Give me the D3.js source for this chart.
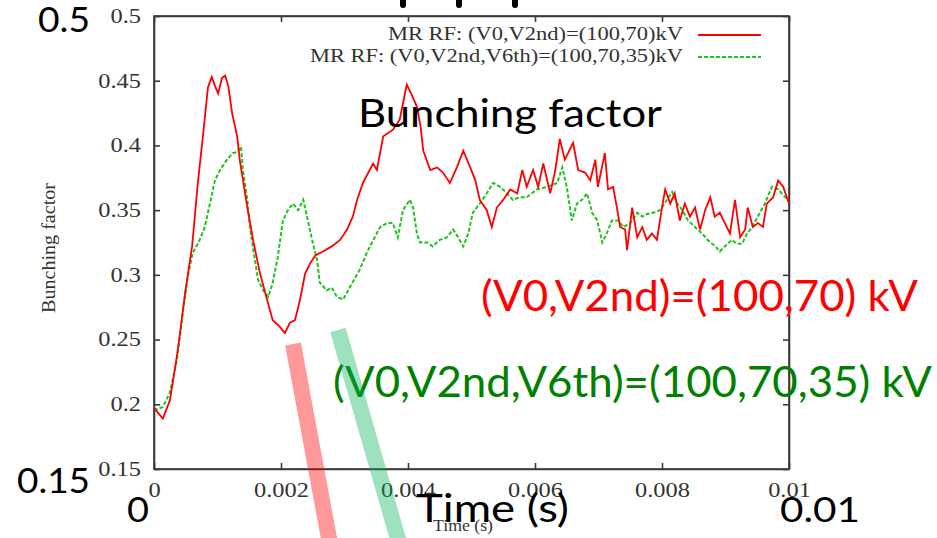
<!DOCTYPE html>
<html>
<head>
<meta charset="utf-8">
<script src="https://cdn.jsdelivr.net/npm/d3@7"></script>
<style>
  html, body { margin: 0; padding: 0; background: #fff; }
  svg { display: block; }
</style>
</head>
<body>
<svg id="chart" width="937" height="538"></svg>
<script>
// ---------------- data ----------------
const xTicks = [0, 0.002, 0.004, 0.006, 0.008, 0.01];
const xTickLabels = ["0", "0.002", "0.004", "0.006", "0.008", "0.01"];
const yTicks = [0.15, 0.2, 0.25, 0.3, 0.35, 0.4, 0.45, 0.5];
const yTickLabels = ["0.15", "0.2", "0.25", "0.3", "0.35", "0.4", "0.45", "0.5"];

const seriesNames = [
  "MR RF: (V0,V2nd)=(100,70)kV",
  "MR RF: (V0,V2nd,V6th)=(100,70,35)kV"
];

// time (s), bunching factor
const redSeries = [
  [0, 0.197], [0.00014, 0.189], [0.00025, 0.203], [0.00035, 0.234], [0.00038, 0.244],
  [0.00049, 0.286], [0.00060, 0.322], [0.00069, 0.371], [0.00077, 0.407], [0.00085, 0.445],
  [0.00091, 0.453], [0.00096, 0.446], [0.00101, 0.440], [0.00107, 0.452], [0.00112, 0.454],
  [0.00117, 0.446], [0.00123, 0.425], [0.00131, 0.407], [0.00135, 0.389], [0.00147, 0.352],
  [0.00156, 0.327], [0.00167, 0.301], [0.00178, 0.281], [0.00187, 0.265], [0.00198, 0.260],
  [0.00206, 0.255], [0.00214, 0.263], [0.00222, 0.265], [0.00230, 0.281], [0.00238, 0.301],
  [0.00246, 0.309], [0.00254, 0.315], [0.00266, 0.318], [0.00280, 0.322], [0.00293, 0.327],
  [0.00304, 0.335], [0.00313, 0.345], [0.00320, 0.358], [0.00329, 0.371], [0.00345, 0.386],
  [0.00351, 0.381], [0.00361, 0.407], [0.00376, 0.412], [0.00387, 0.420], [0.00398, 0.447],
  [0.00405, 0.440], [0.00414, 0.430], [0.00420, 0.414], [0.00424, 0.396], [0.00435, 0.381],
  [0.00446, 0.383], [0.00455, 0.379], [0.00466, 0.371], [0.00477, 0.383], [0.00487, 0.396],
  [0.00498, 0.383], [0.00506, 0.373], [0.00513, 0.358], [0.00524, 0.350], [0.00532, 0.337],
  [0.00540, 0.352], [0.00550, 0.358], [0.00561, 0.366], [0.00572, 0.363], [0.00580, 0.381],
  [0.00587, 0.368], [0.00597, 0.381], [0.00605, 0.368], [0.00613, 0.386], [0.00624, 0.363],
  [0.00632, 0.381], [0.00639, 0.405], [0.00647, 0.389], [0.00660, 0.402], [0.00668, 0.381],
  [0.00679, 0.379], [0.00687, 0.373], [0.00695, 0.389], [0.00699, 0.368], [0.00710, 0.394],
  [0.00715, 0.366], [0.00723, 0.368], [0.00729, 0.352], [0.00734, 0.337], [0.00742, 0.335],
  [0.00745, 0.319], [0.00753, 0.352], [0.00761, 0.329], [0.00769, 0.337], [0.00776, 0.327],
  [0.00784, 0.332], [0.00792, 0.327], [0.00800, 0.352], [0.00805, 0.366], [0.00813, 0.355],
  [0.00820, 0.363], [0.00828, 0.342], [0.00836, 0.355], [0.00844, 0.345], [0.00852, 0.352],
  [0.00860, 0.335], [0.00868, 0.350], [0.00876, 0.360], [0.00883, 0.345], [0.00891, 0.348],
  [0.00899, 0.340], [0.00907, 0.332], [0.00915, 0.358], [0.00923, 0.329], [0.00931, 0.335],
  [0.00935, 0.352], [0.00943, 0.337], [0.00951, 0.340], [0.00959, 0.337], [0.00965, 0.355],
  [0.00975, 0.360], [0.00983, 0.373], [0.00991, 0.368], [0.01, 0.355]
];

const greenSeries = [
  [0, 0.197], [0.00005, 0.196], [0.00014, 0.198], [0.00025, 0.209], [0.00036, 0.234],
  [0.00046, 0.273], [0.00054, 0.301], [0.00061, 0.317], [0.00072, 0.327], [0.00080, 0.337],
  [0.00088, 0.355], [0.00096, 0.373], [0.00104, 0.381], [0.00115, 0.389], [0.00124, 0.394],
  [0.00132, 0.395], [0.00137, 0.399], [0.00140, 0.381], [0.00147, 0.358], [0.00151, 0.337],
  [0.00159, 0.311], [0.00164, 0.296], [0.00172, 0.288], [0.00180, 0.283], [0.00187, 0.294],
  [0.00195, 0.314], [0.00203, 0.342], [0.00211, 0.350], [0.00219, 0.355], [0.00227, 0.350],
  [0.00235, 0.358], [0.00241, 0.345], [0.00249, 0.327], [0.00257, 0.311], [0.00261, 0.294],
  [0.00272, 0.288], [0.00280, 0.290], [0.00288, 0.283], [0.00298, 0.281], [0.00309, 0.291],
  [0.00324, 0.304], [0.00335, 0.317], [0.00356, 0.337], [0.00367, 0.340], [0.00376, 0.340],
  [0.00384, 0.329], [0.00392, 0.350], [0.00403, 0.358], [0.00408, 0.352], [0.00414, 0.332],
  [0.00419, 0.325], [0.00430, 0.325], [0.00439, 0.322], [0.00450, 0.327], [0.00461, 0.329],
  [0.00471, 0.335], [0.00479, 0.329], [0.00487, 0.322], [0.00495, 0.332], [0.00502, 0.348],
  [0.00513, 0.355], [0.00524, 0.363], [0.00534, 0.371], [0.00545, 0.368], [0.00556, 0.363],
  [0.00565, 0.358], [0.00576, 0.360], [0.00587, 0.360], [0.00603, 0.366], [0.00619, 0.368],
  [0.00635, 0.371], [0.00643, 0.383], [0.00650, 0.368], [0.00655, 0.352], [0.00658, 0.342],
  [0.00666, 0.355], [0.00674, 0.358], [0.00682, 0.363], [0.00690, 0.348], [0.00698, 0.342],
  [0.00706, 0.325], [0.00713, 0.332], [0.00721, 0.342], [0.00731, 0.342], [0.00739, 0.337],
  [0.00750, 0.340], [0.00761, 0.348], [0.00769, 0.345], [0.00776, 0.347], [0.00786, 0.348],
  [0.00797, 0.350], [0.00808, 0.358], [0.00816, 0.364], [0.00824, 0.355], [0.00832, 0.350],
  [0.00841, 0.342], [0.00852, 0.337], [0.00863, 0.332], [0.00872, 0.327], [0.00884, 0.322],
  [0.00891, 0.318], [0.00899, 0.322], [0.00910, 0.327], [0.00918, 0.324], [0.00926, 0.324],
  [0.00934, 0.332], [0.00942, 0.337], [0.00951, 0.345], [0.00962, 0.355], [0.00973, 0.368],
  [0.00983, 0.366], [0.00994, 0.360], [0.01, 0.358]
];

// overlaid annotation texts
const annotations = [
  { text: "0.5", x: 38, y: 32, len: 52, color: "#000", size: 35 },
  { text: "0.15", x: 17, y: 493, len: 73, color: "#000", size: 35 },
  { text: "0", x: 127, y: 522, len: 22, color: "#000", size: 35 },
  { text: "Time (s)", x: 416, y: 522, len: 153, color: "#000", size: 38 },
  { text: "0.01", x: 780, y: 522, len: 80, color: "#000", size: 35 },
  { text: "Bunching factor", x: 358, y: 127, len: 304, color: "#000", size: 38 },
  { text: "(V0,V2nd)=(100,70) kV", x: 481, y: 311, len: 437, color: "#ff0000", size: 42 },
  { text: "(V0,V2nd,V6th)=(100,70,35) kV", x: 333, y: 397, len: 599, color: "#008000", size: 42 }
];

// ---------------- layout ----------------
const svg = d3.select("#chart");
const margin = { left: 154, top: 16 };
const W = 635, H = 453;

const x = d3.scaleLinear().domain([0, 0.01]).range([0, W]);
const y = d3.scaleLinear().domain([0.15, 0.5]).range([H, 0]);

const g = svg.append("g").attr("transform", `translate(${margin.left},${margin.top})`);

const serif = "'Liberation Serif', 'Times New Roman', serif";
const axisColor = "#3a3a3a";
const tickFont = 20, tickScale = 1.22;

// left axis with labels
const yAxis = d3.axisLeft(y).tickValues(yTicks)
  .tickFormat((d, i) => yTickLabels[i]).tickSizeInner(-6).tickSizeOuter(0).tickPadding(13);
const gy = g.append("g").call(yAxis);
gy.selectAll("text").attr("font-family", serif).attr("font-size", tickFont).attr("fill", "#333")
  .attr("transform", `scale(${tickScale},1)`)
  .attr("x", -13 / tickScale);

// bottom axis with labels
const xAxis = d3.axisBottom(x).tickValues(xTicks)
  .tickFormat((d, i) => xTickLabels[i]).tickSizeInner(-6).tickSizeOuter(0).tickPadding(14);
const gx = g.append("g").attr("transform", `translate(0,${H})`).call(xAxis);
gx.selectAll("text").attr("font-family", serif).attr("font-size", tickFont).attr("fill", "#333")
  .attr("transform", `scale(${tickScale},1)`)
  .attr("x", 0);
gx.selectAll(".tick").each(function () {
  // keep label centred on its tick despite the horizontal stretch
  const t = d3.select(this);
  t.select("text").attr("x", 0);
});

// mirrored axes (ticks only)
g.append("g").call(d3.axisTop(x).tickValues(xTicks).tickFormat("").tickSizeInner(-6).tickSizeOuter(0));
g.append("g").attr("transform", `translate(${W},0)`)
  .call(d3.axisRight(y).tickValues(yTicks).tickFormat("").tickSizeInner(-6).tickSizeOuter(0));

g.selectAll(".domain, .tick line").attr("stroke", axisColor).attr("stroke-width", 1.6);

// frame
g.append("rect").attr("x", 0).attr("y", 0).attr("width", W).attr("height", H)
  .attr("fill", "none").attr("stroke", axisColor).attr("stroke-width", 1.6);

// axis titles (small serif)
g.append("text")
  .attr("transform", `translate(${55 - margin.left},${248 - margin.top}) rotate(-90)`)
  .attr("text-anchor", "middle").attr("font-family", serif).attr("font-size", 18)
  .attr("fill", "#333").attr("textLength", 130).attr("lengthAdjust", "spacingAndGlyphs")
  .text("Bunching factor");
g.append("text")
  .attr("x", 463 - margin.left).attr("y", 531 - margin.top)
  .attr("text-anchor", "middle").attr("font-family", serif).attr("font-size", 17)
  .attr("fill", "#333").attr("textLength", 60).attr("lengthAdjust", "spacingAndGlyphs")
  .text("Time (s)");

// lines
const line = d3.line().x(d => x(d[0])).y(d => y(d[1]));
const plot = g.append("g");
plot.append("path").datum(greenSeries).attr("d", line)
  .attr("fill", "none").attr("stroke", "#1fc41f").attr("stroke-width", 2)
  .attr("stroke-dasharray", "4,2");
plot.append("path").datum(redSeries).attr("d", line)
  .attr("fill", "none").attr("stroke", "#ff0000").attr("stroke-width", 1.8);

// legend
const legend = g.append("g");
const legColors = ["#ff0000", "#1fc41f"];
const legDash = [null, "4,2"];
const legLens = [295, 373];
seriesNames.forEach((name, i) => {
  const ly = 35 + i * 22 - margin.top;
  legend.append("text").attr("x", 683 - margin.left).attr("y", ly + 5)
    .attr("text-anchor", "end").attr("font-family", serif).attr("font-size", 19)
    .attr("fill", "#333").attr("textLength", legLens[i]).attr("lengthAdjust", "spacingAndGlyphs")
    .text(name);
  legend.append("line").attr("x1", 698 - margin.left).attr("x2", 761 - margin.left)
    .attr("y1", ly).attr("y2", ly)
    .attr("stroke", legColors[i]).attr("stroke-width", 1.8)
    .attr("stroke-dasharray", legDash[i]);
});

// cut-off marks at the top edge
[403, 459, 515].forEach(cx => {
  svg.append("rect").attr("x", cx - 3).attr("y", -4).attr("width", 6).attr("height", 12)
    .attr("rx", 3).attr("fill", "#000");
});

// big overlay annotations
const sans = "Lato, 'Open Sans', sans-serif";
annotations.forEach(a => {
  svg.append("text").attr("x", a.x).attr("y", a.y)
    .attr("font-family", sans).attr("font-size", a.size).attr("fill", a.color)
    .attr("textLength", a.len).attr("lengthAdjust", "spacingAndGlyphs")
    .text(a.text);
});

// translucent slanted pointer bars
svg.append("line").attr("x1", 293).attr("y1", 344).attr("x2", 333).attr("y2", 560)
  .attr("stroke", "rgba(255,0,0,0.4)").attr("stroke-width", 16);
svg.append("line").attr("x1", 338).attr("y1", 330).attr("x2", 404).attr("y2", 560)
  .attr("stroke", "rgba(0,175,85,0.38)").attr("stroke-width", 16);
</script>
</body>
</html>
